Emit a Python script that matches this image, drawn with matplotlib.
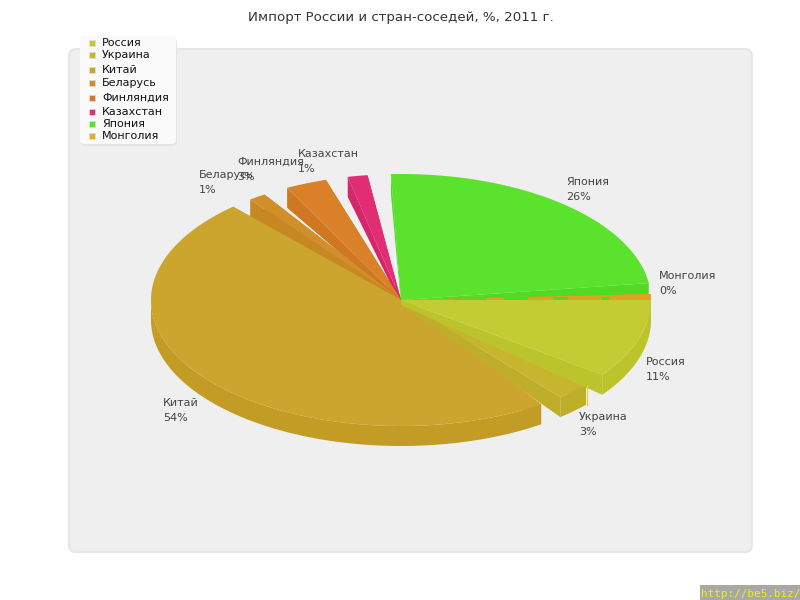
import numpy as np
import matplotlib
matplotlib.use("Agg")
import matplotlib.pyplot as plt
from matplotlib.patches import Polygon, FancyBboxPatch, Rectangle

categories = ["Россия", "Украина", "Китай", "Беларусь", "Финляндия", "Казахстан", "Япония", "Монголия"]
percent_labels = ["11%", "3%", "54%", "1%", "3%", "1%", "26%", "0%"]
# slice start/end as drawn, degrees clockwise from the right
angle_start = [0.0, 42.3, 55.9, 232.9, 242.9, 257.7, 267.7, 357.3]
angle_end = [36.4, 50.4, 227.8, 236.9, 252.5, 262.3, 352.3, 360.0]
top_colors = ["#c4cc33", "#c7b52f", "#cca52f", "#d08f2a", "#d98029", "#e02d73", "#5ae22c", "#dfa322"]
wall_colors = ["#bcc42b", "#bfae29", "#c39c25", "#c78722", "#d07722", "#d6266a", "#50da24", "#d69a1c"]
legend_colors = ["#c4cc33", "#c7b52f", "#cca52f", "#d08f2a", "#d9772a", "#e02d73", "#5ae22c", "#e8ab22"]
legend_y = [43, 55, 70, 83, 98, 112, 124, 136]
label_xy = [(646, 362), (579, 417), (163, 403), (199, 175), (237, 162), (298, 154), (566, 182), (659, 276)]
mongolia_gaps = [(455, 487), (504, 528), (553, 568), (602, 609)]

CX, CY, RX, RY, DEPTH, APEX = 401, 300, 250, 126, 20, 5

fig = plt.figure(figsize=(8, 6), dpi=100)
ax = fig.add_axes([0, 0, 1, 1])
ax.set_xlim(0, 800)
ax.set_ylim(600, 0)
ax.axis("off")
plt.rcParams["font.family"] = "DejaVu Sans"


def pt(a):
    r = np.radians(a)
    return np.array([CX + RX * np.cos(r), CY + RY * np.sin(r)])


def arc(a0, a1):
    return np.array([pt(a) for a in np.linspace(a0, a1, 90)])


def draw_slice(i, z):
    a0, a1 = angle_start[i], angle_end[i]
    c = np.array([CX, CY])
    low = np.array([CX, CY + APEX])
    down = np.array([0, DEPTH])
    # radial side walls taper to a point just under the centre
    for a in (a0, a1):
        ax.add_patch(Polygon([c, pt(a), pt(a) + down, low], closed=True, fc=wall_colors[i], ec="none", zorder=z))
    # outer wall on the visible front half
    lo, hi = max(a0, 0), min(a1, 180)
    if hi > lo:
        top = arc(lo, hi)
        ax.add_patch(Polygon(np.vstack([top, (top + down)[::-1]]), closed=True, fc=wall_colors[i], ec="none", zorder=z))
    face = Polygon(np.vstack([c, arc(a0, a1)]), closed=True, fc=top_colors[i], ec="none", zorder=z + 0.1)
    ax.add_patch(face)
    return face


ax.add_patch(FancyBboxPatch((69, 49), 683, 503, boxstyle="round,pad=0,rounding_size=7",
                            fc="#efefef", ec="#e6e6e6", lw=1.5, zorder=1))

order = [6, 5, 4, 3, 7, 2, 1, 0]
faces = {}
for z, i in enumerate(order):
    faces[i] = draw_slice(i, 2 + z)

# slivers of the Japan wall showing through the Mongolia strip
for x0, x1 in mongolia_gaps:
    gap = Rectangle((x0, CY - 3), x1 - x0, 3, fc=wall_colors[6], ec="none", zorder=6.2)
    ax.add_patch(gap)
    gap.set_clip_path(faces[7])

# thin bright rim on the Ukraine wall, and the pale gap beside Japan
u = pt(angle_start[1])
ax.plot([u[0] + 1, u[0] + 1], [u[1], u[1] + DEPTH], color="#e0d22a", lw=0.8, zorder=9)
j = pt(angle_start[6])
ax.plot([j[0] + 5, CX + 1], [j[1] + 88, CY + 5], color="#ffffff", lw=1.3, zorder=1.5)

ax.add_patch(FancyBboxPatch((81, 38), 96, 108, boxstyle="round,pad=0,rounding_size=5",
                            fc="#e4e4e4", ec="none", zorder=19))
ax.add_patch(FancyBboxPatch((80, 36), 96, 108, boxstyle="round,pad=0,rounding_size=5",
                            fc="#fafafa", ec="none", zorder=20))
for name, col, y in zip(categories, legend_colors, legend_y):
    ax.add_patch(Rectangle((89, y - 3), 6, 6, fc=col, ec="#dddddd", lw=0.5, zorder=21))
    ax.text(102, y, name, fontsize=8, color="#111111", va="center", ha="left", zorder=21)

for name, p, (x, y) in zip(categories, percent_labels, label_xy):
    ax.text(x, y, name, fontsize=8, color="#444444", va="center", ha="left", zorder=15)
    ax.text(x, y + 15, p, fontsize=8, color="#444444", va="center", ha="left", zorder=15)

ax.text(401, 18, "Импорт России и стран-соседей, %, 2011 г.", fontsize=9.6, color="#333333",
        ha="center", va="center", zorder=15)

ax.add_patch(Rectangle((700, 585), 100, 15, fc="#a8a8a8", ec="none", zorder=30))
ax.text(701, 594, "http://be5.biz/", fontsize=7.9, color="#f5f000", ha="left", va="center",
        family="DejaVu Sans Mono", zorder=31)

fig.savefig("out.png", dpi=100)
